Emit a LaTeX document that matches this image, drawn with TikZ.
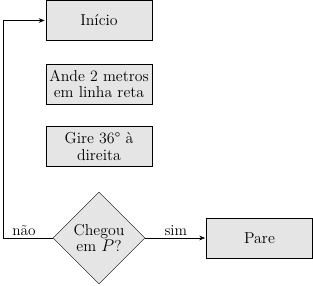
\documentclass[tikz,border=0pt]{standalone}
\usetikzlibrary{shapes.geometric,arrows.meta}

\tikzset{
  passo/.style={draw, fill=gray!20, minimum width=3.18cm, minimum height=1.2cm,
    align=center, inner sep=1pt, font=\fontsize{13.5}{14}\selectfont},
  decisao/.style={draw, fill=gray!20, diamond, aspect=1, inner sep=0pt,
    minimum width=2.76cm, minimum height=2.76cm, align=center,
    font=\fontsize{13.5}{14}\selectfont},
  rotulo/.style={font=\fontsize{13}{14}\selectfont, inner sep=2pt},
  seta/.style={-{Stealth[length=5pt,width=4pt]}, shorten >=1pt}
}

\begin{document}
\begin{tikzpicture}[x=0.03cm, y=-0.03cm]

\useasboundingbox (0,0) rectangle (313,286);

\node[passo] (inicio) at (99,20.5) {Início};
\node[passo] (ande) at (99,84) {Ande 2 metros\\em linha reta};
\node[passo] (gire) at (99,146.5) {Gire 36° à\\direita};
\node[decisao] (chegou) at (99,238) {Chegou\\em $P$?};
\node[passo] (pare) at (259.5,238) {Pare};

\coordinate (canto) at (3,238);

\draw[seta] (chegou.west) -- node[rotulo, above, pos=0.58] (nao) {não} (canto)
  |- (inicio.west);
\draw[seta] (chegou.east) -- node[rotulo, above] (sim) {sim} (pare.west);

\end{tikzpicture}
\end{document}
